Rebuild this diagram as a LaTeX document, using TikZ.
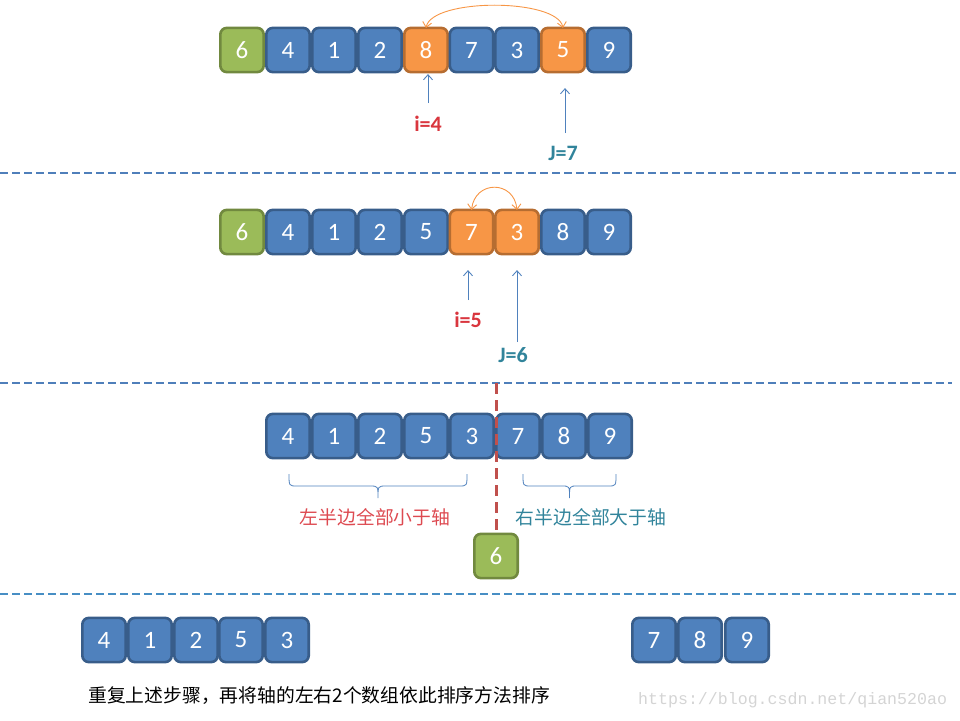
\documentclass[tikz,border=0pt]{standalone}
\usepackage{fontspec}
\setmainfont{Carlito}
\newfontfamily\cjk{Noto Sans CJK SC}
\newfontfamily\wmono{Liberation Mono}
\usetikzlibrary{arrows.meta}
\definecolor{bfill}{HTML}{4F81BD}
\definecolor{bline}{HTML}{385D8A}
\definecolor{ofill}{HTML}{F79646}
\definecolor{oline}{HTML}{B66D31}
\definecolor{gfill}{HTML}{9BBB59}
\definecolor{gline}{HTML}{71893F}
\definecolor{lred}{HTML}{D9363E}
\definecolor{cutred}{HTML}{C0504D}
\definecolor{lteal}{HTML}{31849B}
\definecolor{sep}{HTML}{4F7FBA}
\definecolor{wm}{HTML}{D4D4D4}
\tikzset{
  cell/.style={draw=bline, fill=bfill, line width=2.6pt, rounded corners=6.5pt,
    minimum width=43.4pt, minimum height=44.2pt, inner sep=0pt, outer sep=0pt,
    text=white, font=\fontsize{25}{25}\selectfont},
  ocell/.style={cell, draw=oline, fill=ofill},
  gcell/.style={cell, draw=gline, fill=gfill},
  ptr/.style={draw=bfill, line width=0.9pt, -{Straight Barb[length=5pt,width=9pt]}},
  swap/.style={draw=ofill, line width=0.9pt, {Straight Barb[length=5pt,width=9pt]}-{Straight Barb[length=5pt,width=9pt]}},
  lbl/.style={font=\fontsize{22}{22}\selectfont\bfseries, inner sep=0pt},
  sepline/.style={draw=sep, line width=1.1pt, dash pattern=on 8pt off 4pt},
  brc/.style={draw=bfill, line width=0.8pt},
  cjklbl/.style={font=\cjk\fontsize{18.8}{18.8}\selectfont, inner sep=0pt},
}
\begin{document}
\begin{tikzpicture}[x=1pt,y=-1pt]
\useasboundingbox (0,0) rectangle (960,720);
% ---------- row 1 ----------
\node[gcell] (a0) at (242,50) {6};
\node[cell]  (a1) at (288,50) {4};
\node[cell]  (a2) at (334,50) {1};
\node[cell]  (a3) at (380,50) {2};
\node[ocell] (a4) at (426,50) {8};
\node[cell]  (a5) at (471.5,50) {7};
\node[cell]  (a6) at (517,50) {3};
\node[ocell] (a7) at (563,50) {5};
\node[cell]  (a8) at (609,50) {9};
\draw[swap] (a4.north) .. controls (432,-2) and (557,-2) .. (a7.north);
\coordinate (ti4) at (428,103);
\coordinate (tj7) at (565,133);
\draw[ptr] (ti4) -- ([yshift=-2pt]ti4 |- a4.south);
\draw[ptr] (tj7) -- ([yshift=-16pt]tj7 |- a7.south);
\node[lbl, text=lred]  (li4) at (428,124) {i=4};
\node[lbl, text=lteal] (lj7) at (563,153) {J=7};
\coordinate (s1l) at (0,173);
\coordinate (s1r) at (960,173);
\draw[sepline] (s1l) -- (s1r);
% ---------- row 2 ----------
\node[gcell] (b0) at (242,232) {6};
\node[cell]  (b1) at (288,232) {4};
\node[cell]  (b2) at (334,232) {1};
\node[cell]  (b3) at (380,232) {2};
\node[cell]  (b4) at (426,232) {5};
\node[ocell] (b5) at (471.5,232) {7};
\node[ocell] (b6) at (517,232) {3};
\node[cell]  (b7) at (563,232) {8};
\node[cell]  (b8) at (609,232) {9};
\draw[swap] (b5.north) .. controls (475,180) and (514,180) .. (b6.north);
\coordinate (ti5) at (468,300);
\coordinate (tj6) at (517,342);
\draw[ptr] (ti5) -- ([yshift=-16pt]ti5 |- b5.south);
\draw[ptr] (tj6) -- ([yshift=-16pt]tj6 |- b6.south);
\node[lbl, text=lred]  (li5) at (468,320) {i=5};
\node[lbl, text=lteal] (lj6) at (513,355) {J=6};
\coordinate (s2l) at (0,383);
\coordinate (s2r) at (952,383);
\draw[sepline] (s2l) -- (s2r);
% ---------- row 3 ----------
\node[cell] (c0) at (288,436) {4};
\node[cell] (c1) at (334,436) {1};
\node[cell] (c2) at (380,436) {2};
\node[cell] (c3) at (426,436) {5};
\node[cell] (c4) at (472,436) {3};
\node[cell] (c5) at (518,436) {7};
\node[cell] (c6) at (564,436) {8};
\node[cell] (c7) at (610,436) {9};
\node[gcell] (p) at (496,556) {6};
\coordinate (cut) at (496,383);
\draw[draw=cutred, line width=3pt, dash pattern=on 11pt off 6pt] (cut) -- (p.north);
% braces
\draw[brc] (289,474) .. controls (289,486) and (289,486) .. (297,486) -- (370,486)
  .. controls (378,486) and (378,486) .. (378,498)
  .. controls (378,486) and (378,486) .. (386,486) -- (459,486)
  .. controls (467,486) and (467,486) .. (467,474);
\draw[brc] (523,474) .. controls (523,486) and (523,486) .. (531,486) -- (562,486)
  .. controls (569.5,486) and (569.5,486) .. (569.5,498)
  .. controls (569.5,486) and (569.5,486) .. (577,486) -- (608,486)
  .. controls (616,486) and (616,486) .. (616,474);
\node[cjklbl, text=lred!90!white] (tl) at (375,517) {左半边全部小于轴};
\node[cjklbl, text=lteal] (tr) at (591,517) {右半边全部大于轴};
\coordinate (s3l) at (0,594);
\coordinate (s3r) at (960,594);
\draw[sepline, draw=bfill!90!cyan] (s3l) -- (s3r);
% ---------- row 4 ----------
\node[cell] (d0) at (104,640) {4};
\node[cell] (d1) at (150,640) {1};
\node[cell] (d2) at (196,640) {2};
\node[cell] (d3) at (241,640) {5};
\node[cell] (d4) at (287,640) {3};
\node[cell] (e0) at (654,640) {7};
\node[cell] (e1) at (700,640) {8};
\node[cell] (e2) at (747,640) {9};
\node[font=\cjk\fontsize{18.8}{18.8}\selectfont, anchor=west, inner sep=0pt] (note) at (88,696) {重复上述步骤，再将轴的左右2个数组依此排序方法排序};
\node[font=\wmono\fontsize{16.6}{16.6}\selectfont, text=wm, anchor=west, inner sep=0pt] (mark) at (638,700) {https://blog.csdn.net/qian520ao};
\end{tikzpicture}
\end{document}
